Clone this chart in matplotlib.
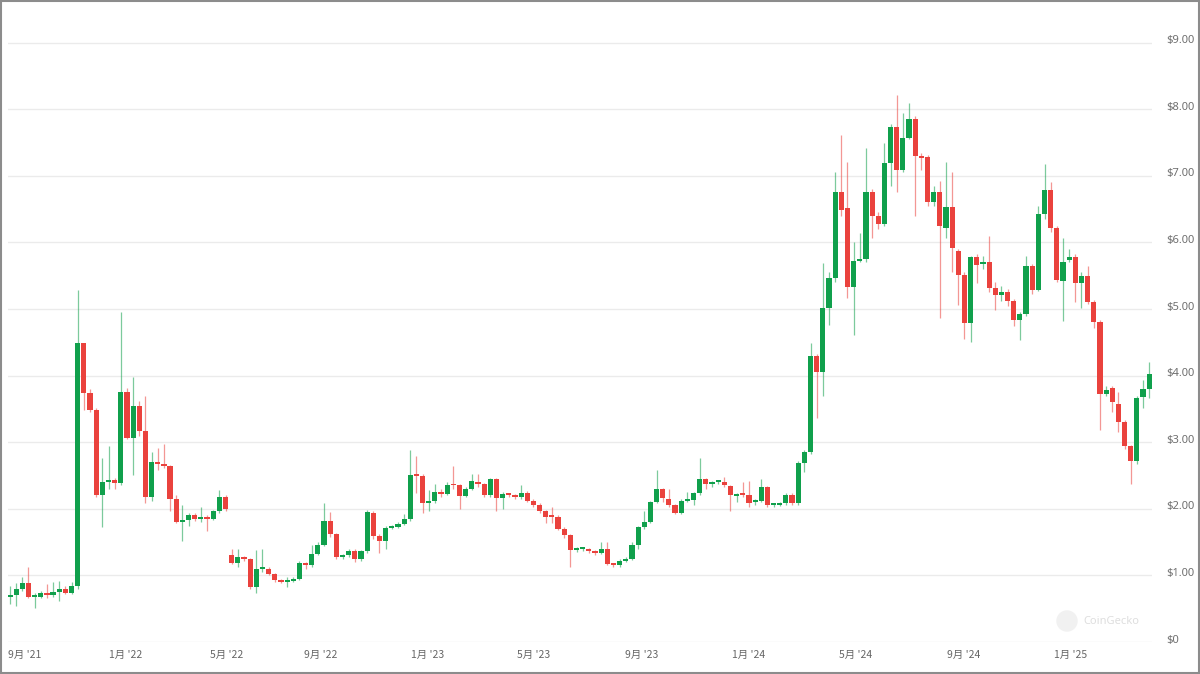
import numpy as np
import pandas as pd
import matplotlib
matplotlib.use("Agg")
import matplotlib.pyplot as plt
import matplotlib.dates as mdates
from matplotlib.transforms import ScaledTranslation
from matplotlib.patches import Rectangle, Circle

# ---------------- data (weekly OHLC, USD) ----------------
open_ = [0.68, 0.71, 0.80, 0.89, 0.68, 0.68, 0.74, 0.71, 0.75, 0.80,
         0.74, 0.84, 4.49, 3.74, 3.49, 2.21, 2.41, 2.44, 2.39, 3.76,
         3.07, 3.54, 3.17, 2.17, 2.70, 2.67, 2.64, 2.15, 1.80, 1.83,
         1.91, 1.85, 1.88, 1.84, 1.96, 2.17, 1.31, 1.19, 1.27, 1.25,
         0.82, 1.09, 1.10, 1.02, 0.93, 0.90, 0.92, 0.95, 1.18, 1.15,
         1.32, 1.46, 1.82, 1.62, 1.27, 1.30, 1.37, 1.24, 1.36, 1.93,
         1.59, 1.52, 1.71, 1.73, 1.77, 1.84, 2.51, 2.49, 2.09, 2.12,
         2.25, 2.22, 2.37, 2.35, 2.19, 2.30, 2.41, 2.37, 2.20, 2.45,
         2.16, 2.22, 2.20, 2.17, 2.24, 2.12, 2.06, 1.96, 1.88, 1.88,
         1.70, 1.60, 1.38, 1.39, 1.39, 1.36, 1.34, 1.39, 1.17, 1.15,
         1.22, 1.25, 1.45, 1.72, 1.80, 2.10, 2.29, 2.15, 2.05, 1.94,
         2.12, 2.13, 2.23, 2.45, 2.37, 2.40, 2.40, 2.34, 2.19, 2.21,
         2.20, 2.10, 2.12, 2.32, 2.05, 2.06, 2.08, 2.21, 2.09, 2.69,
         2.85, 4.29, 4.05, 5.01, 5.47, 6.75, 6.51, 5.33, 5.72, 5.75,
         6.75, 6.39, 6.28, 7.20, 7.74, 7.08, 7.57, 7.86, 7.30, 7.29,
         6.61, 6.75, 6.22, 6.53, 5.87, 5.51, 4.79, 5.78, 5.68, 5.71,
         5.32, 5.21, 5.26, 5.12, 4.83, 4.92, 5.64, 5.29, 6.42, 6.79,
         6.22, 5.42, 5.74, 5.78, 5.39, 5.50, 5.11, 4.81, 3.73, 3.81,
         3.58, 3.31, 2.94, 2.72, 3.68, 3.80]
high = [0.84, 0.89, 0.98, 1.13, 0.74, 0.76, 0.87, 0.90, 0.92, 0.84,
        0.90, 5.29, 4.49, 3.80, 3.52, 2.76, 2.95, 2.47, 4.96, 3.82,
        3.98, 3.62, 3.70, 2.85, 2.91, 2.98, 2.66, 2.20, 2.05, 1.93,
        1.93, 2.02, 1.90, 1.98, 2.28, 2.20, 1.40, 1.40, 1.29, 1.26,
        1.38, 1.40, 1.12, 1.04, 0.95, 0.98, 0.97, 1.22, 1.20, 1.45,
        1.50, 2.08, 1.95, 1.64, 1.32, 1.40, 1.39, 1.38, 1.98, 1.97,
        1.62, 1.74, 1.76, 1.80, 1.92, 2.88, 2.80, 2.52, 2.28, 2.38,
        2.30, 2.40, 2.65, 2.37, 2.33, 2.52, 2.52, 2.39, 2.47, 2.47,
        2.25, 2.24, 2.22, 2.35, 2.26, 2.14, 2.08, 1.98, 2.02, 1.90,
        1.72, 1.62, 1.42, 1.43, 1.41, 1.38, 1.50, 1.50, 1.19, 1.24,
        1.27, 1.50, 1.74, 1.96, 2.12, 2.58, 2.31, 2.30, 2.07, 2.14,
        2.25, 2.25, 2.77, 2.47, 2.42, 2.43, 2.48, 2.36, 2.23, 2.40,
        2.42, 2.14, 2.45, 2.34, 2.08, 2.10, 2.23, 2.23, 2.72, 2.88,
        4.49, 4.32, 5.69, 5.56, 7.05, 7.62, 7.21, 6.00, 6.14, 7.42,
        6.80, 6.45, 7.50, 7.78, 8.22, 7.95, 8.09, 7.90, 7.35, 7.32,
        6.84, 6.92, 7.21, 7.06, 5.90, 5.55, 5.80, 5.82, 5.80, 6.10,
        5.40, 5.35, 5.30, 5.15, 4.95, 5.80, 5.68, 6.55, 7.18, 6.91,
        6.25, 6.07, 5.90, 5.82, 5.55, 5.64, 5.13, 4.84, 3.85, 3.85,
        3.75, 3.33, 2.96, 3.70, 3.93, 4.20]
low = [0.57, 0.54, 0.76, 0.66, 0.51, 0.66, 0.66, 0.68, 0.62, 0.72,
       0.72, 0.80, 3.48, 3.45, 2.18, 1.72, 2.30, 2.30, 2.35, 3.05,
       2.51, 3.10, 2.08, 2.12, 2.58, 2.62, 1.97, 1.78, 1.52, 1.74,
       1.82, 1.80, 1.67, 1.83, 1.94, 1.97, 1.17, 1.12, 1.22, 0.80,
       0.74, 1.05, 1.00, 0.90, 0.88, 0.83, 0.90, 0.93, 1.10, 1.13,
       1.30, 1.44, 1.58, 1.25, 1.25, 1.28, 1.20, 1.22, 1.34, 1.55,
       1.34, 1.40, 1.69, 1.71, 1.75, 1.82, 2.23, 1.94, 1.96, 2.08,
       2.18, 2.20, 2.30, 2.00, 2.17, 2.28, 2.33, 2.18, 2.18, 1.97,
       2.00, 2.17, 2.15, 2.15, 2.10, 2.03, 1.94, 1.78, 1.78, 1.68,
       1.56, 1.13, 1.35, 1.36, 1.33, 1.31, 1.32, 1.15, 1.13, 1.13,
       1.20, 1.23, 1.40, 1.70, 1.78, 2.08, 2.10, 2.03, 1.92, 1.92,
       2.10, 2.05, 2.21, 2.30, 2.33, 2.38, 2.33, 1.97, 2.10, 2.18,
       2.03, 2.05, 2.10, 2.03, 2.03, 2.04, 2.06, 2.06, 2.06, 2.55,
       2.83, 3.36, 3.70, 4.76, 5.40, 6.40, 5.16, 4.61, 5.70, 5.70,
       6.07, 6.20, 6.25, 6.84, 6.75, 7.05, 7.55, 6.39, 7.09, 6.55,
       6.54, 4.86, 6.07, 5.56, 5.06, 4.55, 4.50, 5.39, 5.60, 5.25,
       4.98, 5.12, 5.05, 4.75, 4.53, 4.90, 5.22, 5.27, 6.35, 6.15,
       5.40, 4.82, 5.70, 5.11, 5.02, 5.08, 4.72, 3.18, 3.70, 3.45,
       3.15, 2.90, 2.38, 2.68, 3.52, 3.66]
close = [0.71, 0.80, 0.89, 0.68, 0.70, 0.74, 0.71, 0.75, 0.80, 0.74,
         0.84, 4.49, 3.74, 3.49, 2.21, 2.41, 2.44, 2.39, 3.76, 3.07,
         3.54, 3.17, 2.17, 2.70, 2.67, 2.64, 2.15, 1.80, 1.83, 1.91,
         1.85, 1.88, 1.84, 1.96, 2.17, 1.99, 1.19, 1.27, 1.25, 0.82,
         1.09, 1.10, 1.02, 0.93, 0.90, 0.92, 0.95, 1.18, 1.15, 1.32,
         1.46, 1.82, 1.62, 1.27, 1.30, 1.37, 1.24, 1.36, 1.95, 1.59,
         1.52, 1.71, 1.73, 1.77, 1.84, 2.51, 2.49, 2.09, 2.12, 2.25,
         2.22, 2.36, 2.35, 2.19, 2.30, 2.42, 2.37, 2.20, 2.45, 2.16,
         2.22, 2.20, 2.17, 2.24, 2.12, 2.06, 1.96, 1.88, 1.87, 1.70,
         1.60, 1.38, 1.40, 1.41, 1.36, 1.34, 1.39, 1.17, 1.15, 1.22,
         1.25, 1.45, 1.72, 1.80, 2.10, 2.29, 2.16, 2.06, 1.94, 2.12,
         2.13, 2.23, 2.45, 2.37, 2.40, 2.41, 2.35, 2.20, 2.20, 2.20,
         2.08, 2.12, 2.32, 2.05, 2.06, 2.08, 2.21, 2.09, 2.69, 2.85,
         4.29, 4.05, 5.01, 5.47, 6.75, 6.49, 5.33, 5.72, 5.75, 6.75,
         6.39, 6.28, 7.20, 7.74, 7.08, 7.57, 7.86, 7.30, 7.27, 6.61,
         6.75, 6.24, 6.53, 5.92, 5.51, 4.79, 5.78, 5.66, 5.70, 5.32,
         5.21, 5.26, 5.12, 4.83, 4.92, 5.64, 5.29, 6.42, 6.79, 6.22,
         5.44, 5.71, 5.78, 5.39, 5.50, 5.11, 4.81, 3.73, 3.79, 3.60,
         3.31, 2.94, 2.72, 3.67, 3.80, 4.02]

# week start dates of each candle (no data for three weeks in May 2022)
dates = list(pd.date_range("2021-08-23", periods=36, freq="7D")) + \
        list(pd.date_range("2022-05-23", periods=150, freq="7D"))

y_ticks = [0, 1, 2, 3, 4, 5, 6, 7, 8, 9]
y_labels = ["$0", "$1.00", "$2.00", "$3.00", "$4.00", "$5.00",
            "$6.00", "$7.00", "$8.00", "$9.00"]
x_tick_months = ["2021-09-01", "2022-01-01", "2022-05-01", "2022-09-01",
                 "2023-01-01", "2023-05-01", "2023-09-01", "2024-01-01",
                 "2024-05-01", "2024-09-01", "2025-01-01"]

# ---------------- drawing ----------------
GREEN = "#10a04c"
RED = "#ea423d"

W, H = 1200, 674
fig = plt.figure(figsize=(W / 100, H / 100), dpi=100)
fig.patch.set_facecolor("white")
ax = fig.add_axes([8 / W, 1 - 642 / H, (1152 - 8) / W, (642 - 10) / H])

o = np.array(open_); h = np.array(high); l = np.array(low); c = np.array(close)
n = len(o)
idx = np.arange(n)
up = c >= o
cols = np.where(up, GREEN, RED)

# wicks
ax.vlines(idx[up], l[up], h[up], color=GREEN, alpha=0.55, lw=0.9, zorder=2)
ax.vlines(idx[~up], l[~up], h[~up], color=RED, alpha=0.55, lw=0.9, zorder=2)
# bodies
bottoms = np.minimum(o, c)
heights = np.maximum(np.abs(c - o), 0.03)
ax.bar(idx, heights, bottom=bottoms, width=0.84, color=cols,
       linewidth=0, zorder=3)

ax.set_xlim(-0.32, n - 1 + 0.45)
ax.set_ylim(0, 9.49)

# y axis on the right
ax.yaxis.tick_right()
ax.set_yticks(y_ticks)
ax.set_yticklabels(y_labels, fontsize=8, color="#6f6f6f",
                   family=["Noto Sans", "DejaVu Sans"])
ax.tick_params(axis="y", length=0, pad=10)
for lab in ax.get_yticklabels():
    lab.set_transform(lab.get_transform() +
                      ScaledTranslation(0, 3.5 / 100, fig.dpi_scale_trans))
ax.grid(axis="y", color="#ebebeb", lw=1)
ax.set_axisbelow(True)

# x ticks: ordinal positions interpolated from the dates
dnum = mdates.date2num(dates)
mts = pd.to_datetime(x_tick_months)
xpos = np.interp(mdates.date2num(mts), dnum, idx)
xlabs = [f"{d.month}月 '{d.year % 100:02d}" for d in mts]
ax.set_xticks(xpos)
ax.set_xticklabels(xlabs, fontsize=7.5, color="#666666",
                   family=["Noto Sans CJK JP", "DejaVu Sans"])
ax.tick_params(axis="x", length=0, pad=6)
# keep the first label inside the plot area (as the original does)
first = ax.get_xticklabels()[0]
first.set_transform(first.get_transform() +
                    ScaledTranslation(7 / 100, 0, fig.dpi_scale_trans))

for s in ax.spines.values():
    s.set_visible(False)

# watermark
fig.patches.append(Circle((1067 / 100, (H - 621) / 100), 0.10,
                          transform=fig.dpi_scale_trans, color="#f1f1f1",
                          zorder=0))
fig.text(1083 / W, 1 - 621 / H, "CoinGecko", fontsize=8, color="#dedede",
         va="center", ha="left", family=["Noto Sans", "DejaVu Sans"])

# outer frame
fig.patches.append(Rectangle((0.0008, 0.0015), 0.9984, 0.997,
                             transform=fig.transFigure, fill=False,
                             edgecolor="#8c8c8c", lw=1.5, zorder=10))

fig.savefig("out.png", dpi=100, facecolor="white")
